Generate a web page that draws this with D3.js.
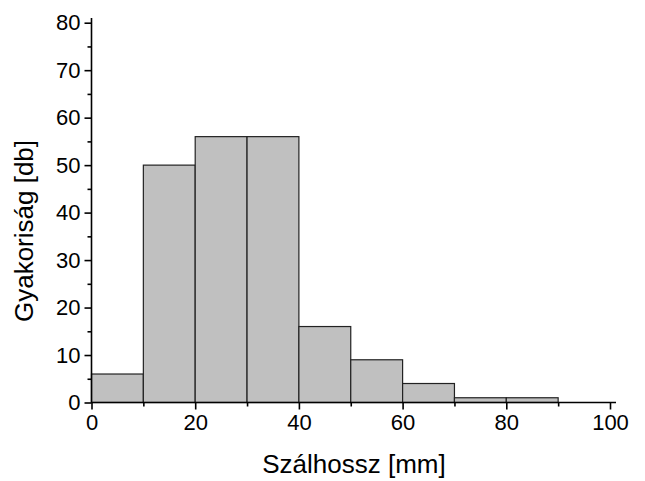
<!DOCTYPE html>
<html><head><meta charset="utf-8">
<script src="https://cdn.jsdelivr.net/npm/d3@7"></script>
<style>body{margin:0;background:#fff}</style>
</head><body>
<svg id="c" width="645" height="481"></svg>
<script>
const binStarts = [0,10,20,30,40,50,60,70,80];
const binWidth = 10;
const counts = [6,50,56,56,16,9,4,1,1];
const xTicks = [0,20,40,60,80,100];
const yTicks = [0,10,20,30,40,50,60,70,80];
const xTitle = "Szálhossz [mm]";
const yTitle = "Gyakoriság [db]";

const svg = d3.select("#c");
const x = d3.scaleLinear().domain([0,100]).range([91.5,610]);
const y = d3.scaleLinear().domain([0,80]).range([402.5,22.7]);
const font = "Liberation Sans, Arial, sans-serif";

svg.append("g").selectAll("rect").data(counts).join("rect")
  .attr("x",(d,i)=>x(binStarts[i]))
  .attr("width",(d,i)=>x(binStarts[i]+binWidth)-x(binStarts[i]))
  .attr("y",d=>y(d))
  .attr("height",d=>y(0)-y(d))
  .attr("fill","#c0c0c0").attr("stroke","#222").attr("stroke-width",1.2);

// x axis
const gx = svg.append("g").attr("transform",`translate(0,${y(0)})`);
gx.call(d3.axisBottom(x).tickValues(xTicks).tickSize(7).tickPadding(5).tickFormat(d3.format("d")));
gx.append("g").call(d3.axisBottom(x).tickValues(d3.range(10,100,20)).tickSize(4).tickFormat(""));
gx.selectAll(".domain").remove();
gx.append("line").attr("x1",x(0)).attr("x2",616).attr("stroke","#000").attr("stroke-width",1.6);
gx.selectAll("line").attr("stroke","#000").attr("stroke-width",1.6);
gx.selectAll("text").attr("font-family",font).attr("font-size",22).attr("fill","#000");

// y axis
const gy = svg.append("g").attr("transform",`translate(${x(0)},0)`);
gy.call(d3.axisLeft(y).tickValues(yTicks).tickSize(7).tickPadding(4).tickFormat(d3.format("d")));
gy.append("g").call(d3.axisLeft(y).tickValues(d3.range(5,80,10)).tickSize(4).tickFormat(""));
gy.selectAll(".domain").remove();
gy.append("line").attr("y1",y(0)).attr("y2",18).attr("stroke","#000").attr("stroke-width",1.6);
gy.selectAll("line").attr("stroke","#000").attr("stroke-width",1.6);
gy.selectAll("text").attr("font-family",font).attr("font-size",22).attr("fill","#000");

svg.append("text").attr("x",354).attr("y",473).attr("text-anchor","middle")
  .attr("font-family",font).attr("font-size",26).text(xTitle);
svg.append("text").attr("transform","translate(33,231) rotate(-90)").attr("text-anchor","middle")
  .attr("font-family",font).attr("font-size",26).text(yTitle);
</script>
</body></html>
